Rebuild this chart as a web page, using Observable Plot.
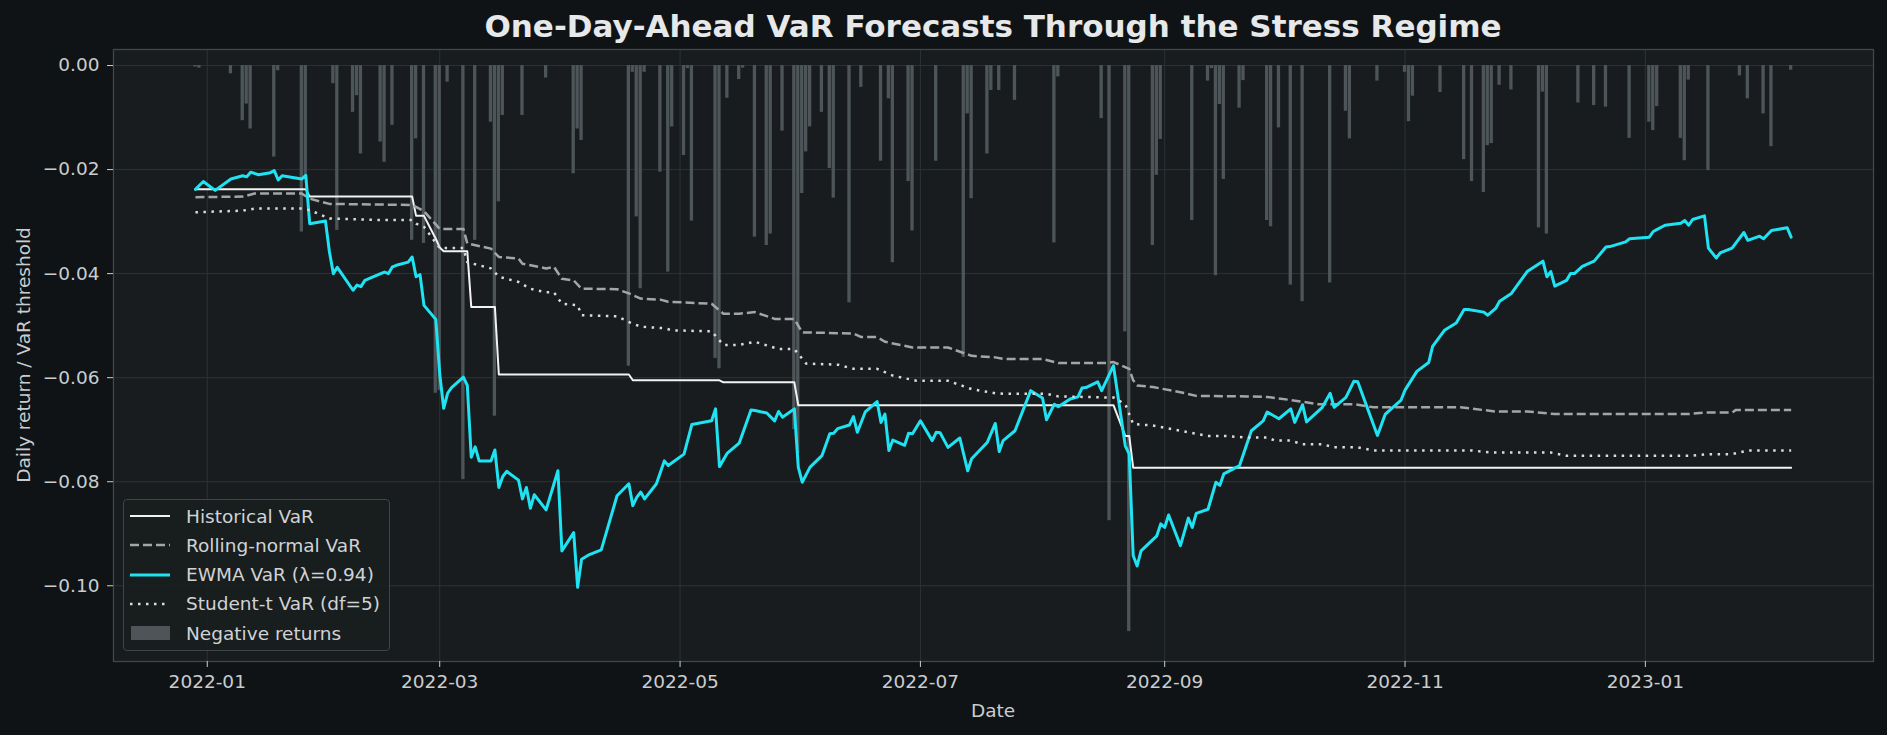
<!DOCTYPE html>
<html>
<head>
<meta charset="utf-8">
<script src="https://cdn.jsdelivr.net/npm/d3@7"></script>
<script src="https://cdn.jsdelivr.net/npm/@observablehq/plot@0.6"></script>
<style>
  html, body { margin: 0; padding: 0; background: #0f1315; }
  #fig { position: relative; width: 1887px; height: 735px; font-family: "DejaVu Sans", sans-serif; color: #c9cdcf; overflow: hidden; }
  #fig > svg { position: absolute; left: 0; top: 0; }
  .title { position: absolute; left: 113px; width: 1760px; top: 9px; text-align: center; font-weight: bold; font-size: 31px; line-height: 35px; color: #e6e8e9; white-space: nowrap; }
  .xlabel { position: absolute; left: 993px; top: 710px; transform: translate(-50%, -50%); font-size: 18.5px; white-space: nowrap; }
  .ylabel { position: absolute; left: 23px; top: 355px; transform: translate(-50%, -50%) rotate(-90deg); font-size: 18.5px; white-space: nowrap; }
  .legend { position: absolute; left: 123px; top: 499px; width: 265px; height: 150px; border: 1px solid #3e4648; border-radius: 4px; background: rgba(25, 29, 31, 0.85); }
  .legend .row { position: absolute; left: 0; height: 24px; display: flex; align-items: center; font-size: 18.5px; white-space: nowrap; color: #d0d3d5; }
  .legend .row svg { margin-left: 5px; margin-right: 15px; }
</style>
</head>
<body>
<div id="fig"></div>
<script>
// Daily negative returns (date, return)
const negativeReturns = [
  ["2021-12-29", -0.0003], ["2021-12-30", -0.0005], ["2022-01-07", -0.0016], ["2022-01-10", -0.0106],
  ["2022-01-11", -0.0074], ["2022-01-12", -0.0122], ["2022-01-18", -0.0176], ["2022-01-19", -0.0010],
  ["2022-01-25", -0.0320], ["2022-01-26", -0.0211], ["2022-02-02", -0.0035], ["2022-02-03", -0.0317],
  ["2022-02-07", -0.0090], ["2022-02-08", -0.0058], ["2022-02-09", -0.0170], ["2022-02-14", -0.0147],
  ["2022-02-15", -0.0186], ["2022-02-17", -0.0115], ["2022-02-22", -0.0336], ["2022-02-23", -0.0141],
  ["2022-02-25", -0.0342], ["2022-02-28", -0.0630], ["2022-03-01", -0.0625], ["2022-03-03", -0.0032],
  ["2022-03-07", -0.0796], ["2022-03-10", -0.0336], ["2022-03-14", -0.0109], ["2022-03-15", -0.0674],
  ["2022-03-16", -0.0262], ["2022-03-17", -0.0096], ["2022-03-22", -0.0096], ["2022-03-28", -0.0024],
  ["2022-04-04", -0.0208], ["2022-04-05", -0.0122], ["2022-04-06", -0.0144], ["2022-04-18", -0.0578],
  ["2022-04-19", -0.0013], ["2022-04-20", -0.0291], ["2022-04-21", -0.0429], ["2022-04-22", -0.0013],
  ["2022-04-26", -0.0205], ["2022-04-28", -0.0397], ["2022-04-29", -0.0118], ["2022-05-02", -0.0173],
  ["2022-05-03", -0.0006], ["2022-05-04", -0.0299], ["2022-05-10", -0.0563], ["2022-05-11", -0.0583],
  ["2022-05-13", -0.0063], ["2022-05-16", -0.0027], ["2022-05-17", -0.0005], ["2022-05-20", -0.0330],
  ["2022-05-23", -0.0346], ["2022-05-24", -0.0324], ["2022-05-27", -0.0126], ["2022-05-30", -0.0700],
  ["2022-05-31", -0.0746], ["2022-06-01", -0.0246], ["2022-06-02", -0.0166], ["2022-06-03", -0.0118],
  ["2022-06-06", -0.0090], ["2022-06-08", -0.0198], ["2022-06-09", -0.0255], ["2022-06-13", -0.0456],
  ["2022-06-16", -0.0042], ["2022-06-21", -0.0184], ["2022-06-23", -0.0064], ["2022-06-24", -0.0379],
  ["2022-06-28", -0.0223], ["2022-06-29", -0.0318], ["2022-07-05", -0.0184], ["2022-07-12", -0.0561],
  ["2022-07-13", -0.0093], ["2022-07-14", -0.0256], ["2022-07-18", -0.0170], ["2022-07-19", -0.0048],
  ["2022-07-21", -0.0048], ["2022-07-25", -0.0067], ["2022-08-04", -0.0341], ["2022-08-05", -0.0022],
  ["2022-08-16", -0.0102], ["2022-08-18", -0.0875], ["2022-08-22", -0.0512], ["2022-08-23", -0.1088],
  ["2022-08-29", -0.0346], ["2022-08-30", -0.0211], ["2022-08-31", -0.0142], ["2022-09-08", -0.0298],
  ["2022-09-12", -0.0030], ["2022-09-13", -0.0006], ["2022-09-14", -0.0404], ["2022-09-15", -0.0075],
  ["2022-09-16", -0.0219], ["2022-09-20", -0.0082], ["2022-09-21", -0.0029], ["2022-09-27", -0.0298],
  ["2022-09-28", -0.0310], ["2022-09-30", -0.0120], ["2022-10-03", -0.0422], ["2022-10-06", -0.0454],
  ["2022-10-13", -0.0418], ["2022-10-17", -0.0088], ["2022-10-18", -0.0141], ["2022-10-25", -0.0030],
  ["2022-11-01", -0.0013], ["2022-11-02", -0.0108], ["2022-11-03", -0.0059], ["2022-11-10", -0.0052],
  ["2022-11-16", -0.0181], ["2022-11-18", -0.0223], ["2022-11-21", -0.0244], ["2022-11-22", -0.0154],
  ["2022-11-23", -0.0150], ["2022-11-25", -0.0038], ["2022-11-28", -0.0047], ["2022-12-05", -0.0312],
  ["2022-12-06", -0.0051], ["2022-12-07", -0.0324], ["2022-12-15", -0.0072], ["2022-12-19", -0.0077],
  ["2022-12-22", -0.0080], ["2022-12-28", -0.0140], ["2023-01-02", -0.0109], ["2023-01-03", -0.0125],
  ["2023-01-04", -0.0079], ["2023-01-10", -0.0140], ["2023-01-11", -0.0183], ["2023-01-12", -0.0028],
  ["2023-01-17", -0.0202], ["2023-01-25", -0.0020], ["2023-01-27", -0.0064], ["2023-01-31", -0.0093],
  ["2023-02-02", -0.0156], ["2023-02-07", -0.0009]
];

// Historical-simulation VaR (changes only when the window's tail changes)
const historicalVaR = [
  ["2021-12-29", -0.0238], ["2022-01-26", -0.0238], ["2022-01-27", -0.0252], ["2022-02-22", -0.0252],
  ["2022-02-23", -0.0289], ["2022-02-25", -0.0289], ["2022-02-28", -0.0333], ["2022-03-01", -0.0350],
  ["2022-03-02", -0.0357], ["2022-03-08", -0.0357], ["2022-03-09", -0.0464], ["2022-03-15", -0.0464],
  ["2022-03-16", -0.0594], ["2022-04-18", -0.0594], ["2022-04-19", -0.0605], ["2022-05-11", -0.0605],
  ["2022-05-12", -0.0609], ["2022-05-30", -0.0609], ["2022-05-31", -0.0653], ["2022-08-19", -0.0653],
  ["2022-08-22", -0.0712], ["2022-08-23", -0.0712], ["2022-08-24", -0.0773], ["2023-02-07", -0.0773]
];

// Rolling-window normal VaR
const rollingNormalVaR = [
  ["2021-12-29", -0.0253], ["2022-01-10", -0.0252], ["2022-01-13", -0.0246], ["2022-01-25", -0.0246],
  ["2022-01-27", -0.0256], ["2022-02-01", -0.0266], ["2022-02-22", -0.0268], ["2022-02-25", -0.0280],
  ["2022-03-01", -0.0314], ["2022-03-07", -0.0314], ["2022-03-08", -0.0342], ["2022-03-14", -0.0352],
  ["2022-03-16", -0.0368], ["2022-03-21", -0.0371], ["2022-03-22", -0.0381], ["2022-03-28", -0.0390],
  ["2022-03-30", -0.0387], ["2022-04-01", -0.0410], ["2022-04-04", -0.0413], ["2022-04-06", -0.0429],
  ["2022-04-15", -0.0430], ["2022-04-18", -0.0438], ["2022-04-21", -0.0448], ["2022-04-26", -0.0450],
  ["2022-04-28", -0.0454], ["2022-05-09", -0.0458], ["2022-05-12", -0.0477], ["2022-05-16", -0.0477],
  ["2022-05-20", -0.0474], ["2022-05-25", -0.0487], ["2022-05-30", -0.0487], ["2022-06-01", -0.0513],
  ["2022-06-14", -0.0515], ["2022-06-16", -0.0522], ["2022-06-20", -0.0522], ["2022-06-22", -0.0531],
  ["2022-06-29", -0.0542], ["2022-07-08", -0.0542], ["2022-07-14", -0.0558], ["2022-07-20", -0.0561],
  ["2022-07-22", -0.0564], ["2022-08-01", -0.0564], ["2022-08-05", -0.0572], ["2022-08-17", -0.0572],
  ["2022-08-19", -0.0570], ["2022-08-23", -0.0583], ["2022-08-24", -0.0605], ["2022-08-25", -0.0615],
  ["2022-08-29", -0.0618], ["2022-09-05", -0.0628], ["2022-09-09", -0.0635], ["2022-09-22", -0.0636],
  ["2022-09-27", -0.0637], ["2022-10-03", -0.0643], ["2022-10-10", -0.0651], ["2022-10-19", -0.0651],
  ["2022-10-24", -0.0657], ["2022-11-15", -0.0657], ["2022-11-24", -0.0665], ["2022-12-02", -0.0665],
  ["2022-12-09", -0.0670], ["2023-01-12", -0.0670], ["2023-01-16", -0.0667], ["2023-01-23", -0.0667],
  ["2023-01-24", -0.0662], ["2023-02-07", -0.0662]
];

// EWMA VaR, lambda = 0.94
const ewmaVaR = [
  ["2021-12-29", -0.0238], ["2021-12-31", -0.0223], ["2022-01-03", -0.0240], ["2022-01-07", -0.0218],
  ["2022-01-10", -0.0212], ["2022-01-11", -0.0214], ["2022-01-12", -0.0205], ["2022-01-14", -0.0210],
  ["2022-01-17", -0.0206], ["2022-01-18", -0.0202], ["2022-01-19", -0.0220], ["2022-01-20", -0.0212],
  ["2022-01-25", -0.0218], ["2022-01-26", -0.0211], ["2022-01-27", -0.0304], ["2022-01-31", -0.0299],
  ["2022-02-01", -0.0358], ["2022-02-02", -0.0400], ["2022-02-03", -0.0388], ["2022-02-07", -0.0432],
  ["2022-02-08", -0.0422], ["2022-02-09", -0.0425], ["2022-02-10", -0.0413], ["2022-02-14", -0.0400],
  ["2022-02-15", -0.0397], ["2022-02-16", -0.0400], ["2022-02-17", -0.0387], ["2022-02-18", -0.0384],
  ["2022-02-21", -0.0378], ["2022-02-22", -0.0368], ["2022-02-23", -0.0406], ["2022-02-24", -0.0402],
  ["2022-02-25", -0.0461], ["2022-02-28", -0.0488], ["2022-03-01", -0.0593], ["2022-03-02", -0.0659],
  ["2022-03-03", -0.0630], ["2022-03-04", -0.0619], ["2022-03-07", -0.0599], ["2022-03-08", -0.0615],
  ["2022-03-09", -0.0753], ["2022-03-10", -0.0733], ["2022-03-11", -0.0760], ["2022-03-14", -0.0760],
  ["2022-03-15", -0.0739], ["2022-03-16", -0.0811], ["2022-03-17", -0.0790], ["2022-03-18", -0.0780],
  ["2022-03-21", -0.0797], ["2022-03-22", -0.0833], ["2022-03-23", -0.0811], ["2022-03-24", -0.0851],
  ["2022-03-25", -0.0825], ["2022-03-28", -0.0854], ["2022-03-31", -0.0779], ["2022-04-01", -0.0933],
  ["2022-04-04", -0.0898], ["2022-04-05", -0.1003], ["2022-04-06", -0.0949], ["2022-04-08", -0.0940],
  ["2022-04-11", -0.0931], ["2022-04-15", -0.0827], ["2022-04-18", -0.0804], ["2022-04-19", -0.0846],
  ["2022-04-20", -0.0830], ["2022-04-21", -0.0820], ["2022-04-22", -0.0833], ["2022-04-25", -0.0804],
  ["2022-04-27", -0.0760], ["2022-04-28", -0.0769], ["2022-05-02", -0.0747], ["2022-05-04", -0.0690],
  ["2022-05-06", -0.0687], ["2022-05-09", -0.0683], ["2022-05-10", -0.0660], ["2022-05-11", -0.0771],
  ["2022-05-13", -0.0745], ["2022-05-16", -0.0726], ["2022-05-19", -0.0662], ["2022-05-20", -0.0663],
  ["2022-05-23", -0.0668], ["2022-05-25", -0.0683], ["2022-05-26", -0.0665], ["2022-05-27", -0.0676],
  ["2022-05-30", -0.0660], ["2022-05-31", -0.0772], ["2022-06-01", -0.0801], ["2022-06-03", -0.0772],
  ["2022-06-06", -0.0750], ["2022-06-08", -0.0708], ["2022-06-09", -0.0707], ["2022-06-10", -0.0698],
  ["2022-06-13", -0.0691], ["2022-06-14", -0.0675], ["2022-06-15", -0.0705], ["2022-06-17", -0.0666],
  ["2022-06-20", -0.0646], ["2022-06-21", -0.0686], ["2022-06-22", -0.0670], ["2022-06-23", -0.0740],
  ["2022-06-24", -0.0720], ["2022-06-27", -0.0730], ["2022-06-28", -0.0707], ["2022-06-29", -0.0708],
  ["2022-07-01", -0.0683], ["2022-07-04", -0.0721], ["2022-07-05", -0.0705], ["2022-07-06", -0.0706],
  ["2022-07-08", -0.0734], ["2022-07-11", -0.0716], ["2022-07-13", -0.0779], ["2022-07-14", -0.0756],
  ["2022-07-18", -0.0724], ["2022-07-20", -0.0688], ["2022-07-21", -0.0742], ["2022-07-22", -0.0721],
  ["2022-07-25", -0.0702], ["2022-07-29", -0.0625], ["2022-08-01", -0.0639], ["2022-08-02", -0.0681],
  ["2022-08-04", -0.0651], ["2022-08-05", -0.0656], ["2022-08-08", -0.0641], ["2022-08-10", -0.0637],
  ["2022-08-11", -0.0620], ["2022-08-12", -0.0619], ["2022-08-15", -0.0608], ["2022-08-16", -0.0625],
  ["2022-08-19", -0.0577], ["2022-08-22", -0.0731], ["2022-08-23", -0.0747], ["2022-08-24", -0.0942],
  ["2022-08-25", -0.0962], ["2022-08-26", -0.0933], ["2022-08-30", -0.0904], ["2022-08-31", -0.0881],
  ["2022-09-01", -0.0888], ["2022-09-02", -0.0864], ["2022-09-05", -0.0923], ["2022-09-07", -0.0870],
  ["2022-09-08", -0.0888], ["2022-09-09", -0.0861], ["2022-09-12", -0.0853], ["2022-09-14", -0.0801],
  ["2022-09-15", -0.0807], ["2022-09-16", -0.0785], ["2022-09-20", -0.0769], ["2022-09-23", -0.0702],
  ["2022-09-26", -0.0683], ["2022-09-27", -0.0666], ["2022-09-30", -0.0679], ["2022-10-03", -0.0660],
  ["2022-10-04", -0.0686], ["2022-10-06", -0.0652], ["2022-10-07", -0.0685], ["2022-10-11", -0.0657],
  ["2022-10-13", -0.0630], ["2022-10-14", -0.0657], ["2022-10-17", -0.0638], ["2022-10-19", -0.0607],
  ["2022-10-20", -0.0608], ["2022-10-25", -0.0711], ["2022-10-27", -0.0670], ["2022-10-31", -0.0643],
  ["2022-11-01", -0.0624], ["2022-11-04", -0.0588], ["2022-11-07", -0.0571], ["2022-11-08", -0.0540],
  ["2022-11-11", -0.0509], ["2022-11-14", -0.0495], ["2022-11-16", -0.0469], ["2022-11-17", -0.0469],
  ["2022-11-21", -0.0474], ["2022-11-22", -0.0480], ["2022-11-24", -0.0467], ["2022-11-25", -0.0453],
  ["2022-11-28", -0.0438], ["2022-12-02", -0.0396], ["2022-12-06", -0.0376], ["2022-12-07", -0.0406],
  ["2022-12-08", -0.0396], ["2022-12-09", -0.0424], ["2022-12-12", -0.0413], ["2022-12-13", -0.0400],
  ["2022-12-14", -0.0400], ["2022-12-16", -0.0386], ["2022-12-19", -0.0376], ["2022-12-22", -0.0349],
  ["2022-12-23", -0.0348], ["2022-12-27", -0.0339], ["2022-12-28", -0.0333], ["2023-01-02", -0.0330],
  ["2023-01-03", -0.0319], ["2023-01-04", -0.0315], ["2023-01-06", -0.0307], ["2023-01-10", -0.0303],
  ["2023-01-11", -0.0298], ["2023-01-12", -0.0307], ["2023-01-13", -0.0296], ["2023-01-16", -0.0289],
  ["2023-01-17", -0.0351], ["2023-01-19", -0.0370], ["2023-01-20", -0.0360], ["2023-01-23", -0.0351],
  ["2023-01-26", -0.0321], ["2023-01-27", -0.0336], ["2023-01-30", -0.0328], ["2023-01-31", -0.0333],
  ["2023-02-02", -0.0317], ["2023-02-06", -0.0312], ["2023-02-07", -0.0330]
];

// Student-t VaR, df = 5
const studentTVaR = [
  ["2021-12-29", -0.0282], ["2022-01-10", -0.0279], ["2022-01-13", -0.0275], ["2022-01-25", -0.0275],
  ["2022-01-27", -0.0278], ["2022-02-01", -0.0294], ["2022-02-14", -0.0297], ["2022-02-22", -0.0297],
  ["2022-02-23", -0.0304], ["2022-02-25", -0.0310], ["2022-03-01", -0.0351], ["2022-03-07", -0.0351],
  ["2022-03-08", -0.0378], ["2022-03-14", -0.0390], ["2022-03-16", -0.0406], ["2022-03-21", -0.0416],
  ["2022-03-24", -0.0429], ["2022-03-28", -0.0436], ["2022-03-30", -0.0436], ["2022-04-01", -0.0458],
  ["2022-04-05", -0.0461], ["2022-04-06", -0.0480], ["2022-04-15", -0.0482], ["2022-04-18", -0.0493],
  ["2022-04-21", -0.0502], ["2022-04-27", -0.0505], ["2022-04-29", -0.0509], ["2022-05-09", -0.0511],
  ["2022-05-12", -0.0537], ["2022-05-16", -0.0537], ["2022-05-20", -0.0531], ["2022-05-26", -0.0545],
  ["2022-05-30", -0.0545], ["2022-06-02", -0.0573], ["2022-06-10", -0.0575], ["2022-06-14", -0.0583],
  ["2022-06-20", -0.0583], ["2022-06-24", -0.0596], ["2022-06-30", -0.0606], ["2022-07-08", -0.0606],
  ["2022-07-14", -0.0622], ["2022-07-20", -0.0630], ["2022-07-22", -0.0631], ["2022-08-02", -0.0631],
  ["2022-08-05", -0.0636], ["2022-08-17", -0.0638], ["2022-08-19", -0.0638], ["2022-08-22", -0.0651],
  ["2022-08-24", -0.0689], ["2022-08-29", -0.0692], ["2022-09-05", -0.0702], ["2022-09-12", -0.0712],
  ["2022-09-16", -0.0712], ["2022-09-22", -0.0715], ["2022-09-27", -0.0715], ["2022-09-29", -0.0721],
  ["2022-10-03", -0.0721], ["2022-10-06", -0.0728], ["2022-10-11", -0.0728], ["2022-10-14", -0.0734],
  ["2022-10-20", -0.0734], ["2022-10-24", -0.0740], ["2022-11-18", -0.0740], ["2022-11-23", -0.0744],
  ["2022-12-08", -0.0744], ["2022-12-12", -0.0750], ["2023-01-13", -0.0750], ["2023-01-17", -0.0747],
  ["2023-01-23", -0.0747], ["2023-01-27", -0.0740], ["2023-02-07", -0.0740]
];

const xTicks = ["2022-01-01", "2022-03-01", "2022-05-01", "2022-07-01", "2022-09-01", "2022-11-01", "2023-01-01"];
const yTicks = [0, -0.02, -0.04, -0.06, -0.08, -0.10];
const legendLabels = ["Historical VaR", "Rolling-normal VaR", "EWMA VaR (λ=0.94)", "Student-t VaR (df=5)", "Negative returns"];

const colors = {
  historical: "#f2f2f2",
  normal: "#a2a6a8",
  ewma: "#1fe3f2",
  studentT: "#d9dbdc",
  bars: "#4d5558",
  grid: "#2c3335",
  frame: "#40484a",
  panel: "#181c1e"
};

const parse = d3.utcParse("%Y-%m-%d");
const toRows = (pairs) => pairs.map(([d, v]) => ({date: parse(d), value: v}));
const DAY = 864e5;

const bars = toRows(negativeReturns);
const hist = toRows(historicalVaR);
const norm = toRows(rollingNormalVaR);
const ewma = toRows(ewmaVaR);
const tvar = toRows(studentTVaR);

const chart = Plot.plot({
  width: 1887,
  height: 735,
  marginLeft: 113,
  marginRight: 14,
  marginTop: 49,
  marginBottom: 74,
  style: {background: "transparent", color: "#c9cdcf", fontFamily: "DejaVu Sans, sans-serif", fontSize: "18.5px", overflow: "visible"},
  x: {type: "utc", domain: [new Date("2021-12-08T04:48:00Z"), new Date("2023-02-27T21:36:00Z")]},
  y: {domain: [-0.11456, 0.00308]},
  marks: [
    Plot.frame({fill: colors.panel, stroke: null}),
    Plot.gridX({ticks: xTicks.map(parse), stroke: colors.grid, strokeOpacity: 1, strokeWidth: 1}),
    Plot.gridY({ticks: yTicks, stroke: colors.grid, strokeOpacity: 1, strokeWidth: 1}),
    Plot.rect(bars, {
      x1: (d) => new Date(+d.date - 0.42 * DAY),
      x2: (d) => new Date(+d.date + 0.42 * DAY),
      y1: 0,
      y2: "value",
      fill: colors.bars
    }),
    Plot.line(hist, {x: "date", y: "value", stroke: colors.historical, strokeWidth: 2}),
    Plot.line(norm, {x: "date", y: "value", stroke: colors.normal, strokeWidth: 2.5, strokeDasharray: "9,4", strokeLinecap: "butt"}),
    Plot.line(ewma, {x: "date", y: "value", stroke: colors.ewma, strokeWidth: 3}),
    Plot.line(tvar, {x: "date", y: "value", stroke: colors.studentT, strokeWidth: 2.5, strokeDasharray: "2.5,5.5", strokeLinecap: "butt"}),
    Plot.frame({stroke: colors.frame, strokeWidth: 1.3}),
    Plot.axisX({ticks: xTicks.map(parse), tickFormat: d3.utcFormat("%Y-%m"), tickSize: 6, tickPadding: 7.5, label: null, stroke: "#c9cdcf"}),
    Plot.axisY({ticks: yTicks, tickFormat: d3.format(".2f"), tickSize: 6, tickPadding: 8, label: null, stroke: "#c9cdcf"})
  ]
});

const fig = document.getElementById("fig");
fig.appendChild(chart);

const title = document.createElement("div");
title.className = "title";
title.textContent = "One-Day-Ahead VaR Forecasts Through the Stress Regime";
fig.appendChild(title);

const xl = document.createElement("div");
xl.className = "xlabel";
xl.textContent = "Date";
fig.appendChild(xl);

const yl = document.createElement("div");
yl.className = "ylabel";
yl.textContent = "Daily return / VaR threshold";
fig.appendChild(yl);

// Legend: one swatch per series, drawn in the series' own stroke style
const swatches = [
  `<line x1="1" x2="41" y1="10" y2="10" stroke="${colors.historical}" stroke-width="2"/>`,
  `<line x1="1" x2="41" y1="10" y2="10" stroke="${colors.normal}" stroke-width="2.5" stroke-dasharray="9,4"/>`,
  `<line x1="1" x2="41" y1="10" y2="10" stroke="${colors.ewma}" stroke-width="3"/>`,
  `<line x1="1" x2="41" y1="10" y2="10" stroke="${colors.studentT}" stroke-width="2.5" stroke-dasharray="2.5,5.5"/>`,
  `<rect x="2" y="3" width="39" height="14" fill="${colors.bars}"/>`
];
const legend = document.createElement("div");
legend.className = "legend";
const rowCenters = [16, 45.3, 74.5, 103.8, 133.2];
legendLabels.forEach((label, i) => {
  const row = document.createElement("div");
  row.className = "row";
  row.style.top = (rowCenters[i] - 12) + "px";
  row.innerHTML = `<svg width="42" height="20">${swatches[i]}</svg><span>${label}</span>`;
  legend.appendChild(row);
});
fig.appendChild(legend);
</script>
</body>
</html>
